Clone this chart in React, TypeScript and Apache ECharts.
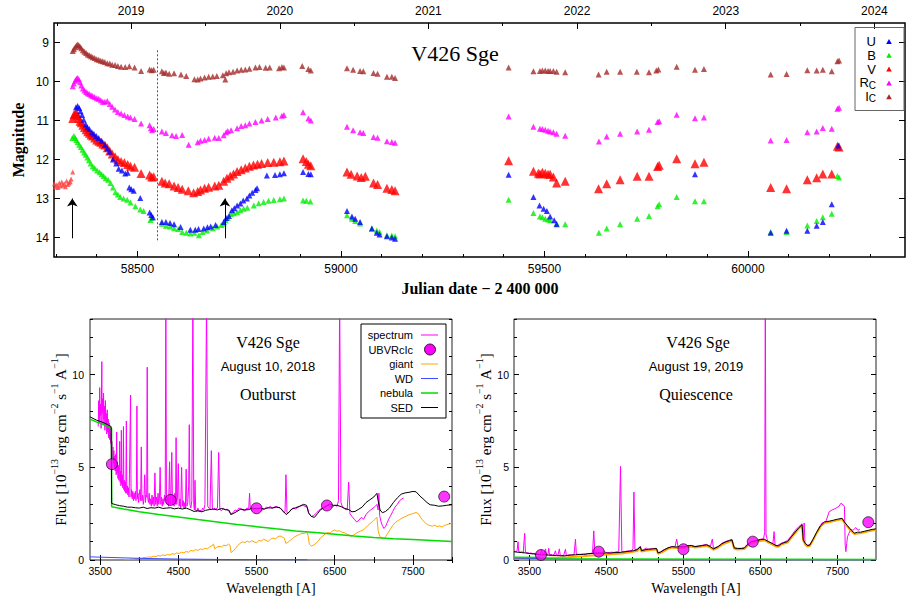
import React, { useEffect, useRef } from 'react';
import * as echarts from 'echarts';

const SERIF = '"Liberation Serif", "Times New Roman", serif';
const SANS = '"Liberation Sans", Arial, sans-serif';

// ---------- axis ticks ----------
const JD_MIN = 58295;
const JD_MAX = 60386;
const JD_LABELS = [58500, 59000, 59500, 60000];
const JD_MINOR = [58300, 58400, 58600, 58700, 58800, 58900, 59100, 59200, 59300, 59400, 59600, 59700, 59800, 59900, 60100, 60200, 60300];
const YEARS = [2019, 2020, 2021, 2022, 2023, 2024];
const HALF_YEARS = [2018.5, 2019.5, 2020.5, 2021.5, 2022.5, 2023.5];
const MAG_TICKS = [9, 10, 11, 12, 13, 14];
const WL_LABELS = [3500, 4500, 5500, 6500, 7500];
const WL_MINOR_L = [4000, 5000, 6000, 7000, 8000];
const WL_MINOR_R = [3833.3, 4166.7, 4833.3, 5166.7, 5833.3, 6166.7, 6833.3, 7166.7, 7833.3];
const FLUX_LABELS = [0, 5, 10];
const FLUX_MINOR = [1, 2, 3, 4, 6, 7, 8, 9, 11, 12, 13];

// ---------- light curves [JD-2400000, mag] ----------
const IC: number[][] = [
  [58341, 9.22], [58344, 9.17], [58347, 9.12], [58350, 9.08], [58353, 9.05], [58356, 9.07], [58359, 9.11], [58362, 9.15], [58366, 9.2], [58370, 9.24],
  [58374, 9.27], [58378, 9.31], [58382, 9.33], [58386, 9.35], [58390, 9.38], [58395, 9.4], [58400, 9.43], [58405, 9.44], [58410, 9.47], [58415, 9.48],
  [58420, 9.5], [58426, 9.53], [58432, 9.54], [58438, 9.57], [58445, 9.58], [58452, 9.6], [58460, 9.62], [58470, 9.63], [58480, 9.61], [58493, 9.64],
  [58509, 9.73], [58530, 9.69], [58535, 9.71], [58540, 9.7], [58560, 9.74], [58565, 9.78], [58570, 9.77], [58578, 9.8], [58590, 9.79], [58607, 9.82],
  [58620, 9.86], [58640, 9.94], [58648, 9.95], [58655, 9.92], [58665, 9.9], [58675, 9.88], [58685, 9.87], [58695, 9.86], [58710, 9.84], [58716, 9.95],
  [58718, 9.79], [58725, 9.76], [58735, 9.75], [58745, 9.72], [58755, 9.7], [58765, 9.69], [58775, 9.67], [58790, 9.64], [58800, 9.63], [58815, 9.65],
  [58825, 9.64], [58848, 9.66], [58855, 9.63], [58860, 9.64], [58905, 9.6], [58920, 9.68], [58926, 9.72], [59015, 9.66], [59030, 9.7], [59047, 9.73],
  [59055, 9.74], [59080, 9.78], [59090, 9.8], [59113, 9.88], [59125, 9.88], [59133, 9.91],
  [59412, 9.64], [59473, 9.74], [59489, 9.73], [59495, 9.72], [59502, 9.72], [59509, 9.73], [59514, 9.73], [59522, 9.73], [59530, 9.75], [59551, 9.76],
  [59633, 9.82], [59653, 9.75], [59686, 9.75], [59727, 9.75], [59757, 9.76], [59775, 9.72], [59780, 9.69], [59825, 9.62], [59870, 9.7], [59892, 9.68],
  [60056, 9.82], [60095, 9.81], [60146, 9.71], [60169, 9.72], [60184, 9.7], [60206, 9.74], [60220, 9.48], [60224, 9.46],
];
const RC: number[][] = [
  [58341, 10.12], [58344, 10.05], [58347, 9.98], [58350, 9.93], [58353, 9.91], [58356, 9.95], [58359, 10.02], [58362, 10.1], [58366, 10.18], [58370, 10.23],
  [58374, 10.27], [58378, 10.3], [58382, 10.32], [58386, 10.35], [58390, 10.37], [58395, 10.4], [58400, 10.43], [58405, 10.44], [58410, 10.48], [58415, 10.52],
  [58420, 10.52], [58426, 10.5], [58432, 10.58], [58438, 10.65], [58445, 10.72], [58452, 10.78], [58460, 10.82], [58468, 10.86], [58476, 10.9], [58483, 10.92],
  [58493, 10.96], [58509, 11.08], [58530, 11.12], [58533, 11.2], [58536, 11.25], [58540, 11.22], [58560, 11.28], [58570, 11.32], [58585, 11.38], [58595, 11.4],
  [58610, 11.37], [58626, 11.62], [58648, 11.56], [58655, 11.52], [58665, 11.5], [58675, 11.47], [58690, 11.44], [58700, 11.45], [58712, 11.38], [58718, 11.3],
  [58722, 11.27], [58730, 11.25], [58745, 11.2], [58755, 11.14], [58765, 11.12], [58775, 11.08], [58790, 11.04], [58805, 11.0], [58820, 10.96], [58840, 10.92],
  [58855, 10.88], [58860, 10.86], [58907, 10.79], [58920, 10.95], [58926, 11.0], [59015, 11.16], [59030, 11.25], [59047, 11.3], [59055, 11.32], [59080, 11.42],
  [59090, 11.44], [59113, 11.53], [59125, 11.55], [59133, 11.57],
  [59412, 10.9], [59473, 11.16], [59489, 11.21], [59495, 11.22], [59502, 11.24], [59509, 11.26], [59514, 11.28], [59522, 11.3], [59530, 11.34], [59551, 11.39],
  [59634, 11.54], [59653, 11.41], [59686, 11.34], [59728, 11.28], [59757, 11.24], [59778, 11.04], [59782, 11.02], [59825, 10.85], [59870, 10.94], [59892, 10.92],
  [60056, 11.51], [60095, 11.5], [60146, 11.3], [60169, 11.28], [60184, 11.19], [60206, 11.21], [60220, 10.7], [60224, 10.67],
];
const V_PRE: number[][] = [
  [58296, 12.62], [58299, 12.7], [58302, 12.65], [58305, 12.72], [58308, 12.6], [58311, 12.68], [58314, 12.58], [58317, 12.66], [58320, 12.62],
  [58323, 12.7], [58326, 12.55], [58329, 12.64], [58332, 12.6], [58335, 12.57], [58337, 12.5], [58341, 12.32],
];
const V: number[][] = [
  [58341, 10.95], [58344, 10.85], [58347, 10.82], [58350, 10.81], [58353, 10.88], [58356, 10.95], [58359, 11.02], [58362, 11.06], [58366, 11.12], [58370, 11.18],
  [58374, 11.24], [58378, 11.29], [58382, 11.33], [58386, 11.37], [58390, 11.4], [58395, 11.45], [58400, 11.5], [58405, 11.53], [58410, 11.56], [58415, 11.6],
  [58420, 11.63], [58426, 11.7], [58432, 11.78], [58438, 11.86], [58445, 11.93], [58452, 12.0], [58460, 12.05], [58468, 12.08], [58476, 12.13], [58483, 12.17],
  [58493, 12.2], [58509, 12.36], [58530, 12.4], [58535, 12.45], [58540, 12.44], [58560, 12.56], [58568, 12.6], [58578, 12.62], [58590, 12.68], [58600, 12.72],
  [58610, 12.76], [58625, 12.8], [58638, 12.85], [58648, 12.82], [58655, 12.78], [58665, 12.74], [58675, 12.71], [58690, 12.68], [58700, 12.66], [58712, 12.56],
  [58720, 12.48], [58728, 12.42], [58736, 12.37], [58745, 12.31], [58755, 12.26], [58765, 12.22], [58775, 12.17], [58785, 12.14], [58795, 12.12], [58805, 12.1],
  [58820, 12.08], [58835, 12.07], [58850, 12.06], [58860, 12.04], [58907, 11.98], [58915, 12.05], [58920, 12.12], [58926, 12.16], [59015, 12.32], [59025, 12.38],
  [59040, 12.42], [59050, 12.46], [59060, 12.43], [59080, 12.6], [59090, 12.64], [59113, 12.74], [59125, 12.77], [59133, 12.8],
  [59412, 12.03], [59473, 12.3], [59485, 12.35], [59489, 12.37], [59495, 12.33], [59502, 12.35], [59509, 12.38], [59514, 12.38], [59522, 12.45], [59530, 12.6],
  [59551, 12.56], [59633, 12.75], [59653, 12.62], [59686, 12.52], [59728, 12.43], [59757, 12.43], [59778, 12.18], [59782, 12.15], [59825, 11.98], [59870, 12.11],
  [59892, 12.07], [60056, 12.72], [60095, 12.75], [60146, 12.52], [60169, 12.47], [60184, 12.37], [60206, 12.37], [60220, 11.66], [60224, 11.68],
];
const U: number[][] = [
  [58349, 10.66], [58353, 10.63], [58357, 10.68], [58360, 10.76], [58364, 10.86], [58368, 10.98], [58373, 11.1], [58377, 11.17], [58382, 11.22], [58388, 11.3],
  [58393, 11.34], [58399, 11.4], [58405, 11.45], [58412, 11.52], [58420, 11.62], [58426, 11.72], [58432, 11.8], [58440, 12.0], [58448, 12.1], [58454, 12.24],
  [58462, 12.28], [58470, 12.36], [58476, 12.34], [58480, 12.72], [58485, 12.76], [58491, 12.8], [58507, 12.99], [58530, 13.36], [58534, 13.42], [58538, 13.48],
  [58560, 13.6], [58570, 13.6], [58580, 13.63], [58590, 13.66], [58606, 13.73], [58630, 13.8], [58642, 13.8], [58650, 13.78], [58663, 13.77], [58672, 13.74],
  [58680, 13.72], [58692, 13.68], [58712, 13.6], [58718, 13.5], [58725, 13.45], [58732, 13.3], [58738, 13.25], [58745, 13.18], [58753, 13.13], [58760, 13.05],
  [58769, 13.0], [58775, 12.92], [58782, 12.85], [58790, 12.78], [58794, 12.74], [58818, 12.41], [58838, 12.4], [58850, 12.38], [58860, 12.35], [58907, 12.32],
  [58920, 12.37], [58926, 12.38], [59015, 13.32], [59027, 13.46], [59035, 13.52], [59047, 13.6], [59076, 13.77], [59088, 13.88], [59095, 13.92], [59113, 13.97],
  [59125, 14.0], [59133, 14.03],
  [59412, 12.39], [59473, 12.96], [59488, 13.18], [59498, 13.26], [59506, 13.32], [59514, 13.46], [59524, 13.56], [59530, 13.66], [59870, 12.38],
  [60056, 13.88], [60095, 13.83], [60146, 13.83], [60169, 13.7], [60184, 13.6], [60206, 13.15], [60222, 11.64],
];
const B: number[][] = [
  [58340, 11.45], [58344, 11.4], [58347, 11.45], [58350, 11.5], [58353, 11.56], [58357, 11.62], [58361, 11.68], [58365, 11.75], [58369, 11.82], [58373, 11.88],
  [58377, 11.95], [58381, 12.02], [58385, 12.1], [58390, 12.17], [58395, 12.22], [58401, 12.28], [58407, 12.33], [58412, 12.38], [58417, 12.42], [58422, 12.48],
  [58428, 12.52], [58434, 12.6], [58440, 12.72], [58446, 12.84], [58452, 12.9], [58458, 12.96], [58466, 13.0], [58475, 13.03], [58483, 13.1], [58495, 13.2],
  [58507, 13.28], [58515, 13.32], [58532, 13.55], [58535, 13.5], [58560, 13.65], [58570, 13.7], [58580, 13.72], [58590, 13.76], [58600, 13.78], [58610, 13.86],
  [58620, 13.88], [58630, 13.9], [58640, 13.88], [58651, 13.94], [58660, 13.86], [58671, 13.82], [58685, 13.76], [58696, 13.72], [58706, 13.68], [58712, 13.65],
  [58717, 13.56], [58722, 13.5], [58729, 13.4], [58737, 13.38], [58745, 13.35], [58753, 13.3], [58761, 13.26], [58770, 13.24], [58786, 13.18], [58798, 13.12],
  [58810, 13.09], [58822, 13.06], [58835, 13.04], [58850, 13.02], [58860, 13.0], [58907, 13.05], [58915, 13.06], [58925, 13.08], [59015, 13.43], [59027, 13.52],
  [59035, 13.58], [59047, 13.64], [59076, 13.77], [59088, 13.82], [59095, 13.86], [59113, 13.94], [59125, 13.95], [59133, 13.97],
  [59412, 13.03], [59473, 13.37], [59489, 13.46], [59495, 13.48], [59502, 13.52], [59509, 13.54], [59514, 13.56], [59530, 13.64], [59551, 13.66], [59634, 13.88],
  [59653, 13.77], [59686, 13.66], [59728, 13.52], [59757, 13.45], [59778, 13.2], [59782, 13.15], [59825, 12.96], [59870, 13.07], [59892, 13.07], [60056, 13.86],
  [60095, 13.86], [60146, 13.69], [60169, 13.58], [60184, 13.48], [60206, 13.39], [60220, 12.42], [60224, 12.46],
];
const ARROW_JD = [58340, 58715];
const ARROW_MAG = [14.02, 13.0];
const DIVIDER_JD = 58549;
const DIVIDER_MAG = [9.2, 14.08];

// ---------- spectra: outburst (Aug 10, 2018) [wavelength A, flux] ----------
const SPEC_OUT: number[][] = [
  [3475, 7.2], [3482, 8.6], [3488, 7.4], [3494, 9.3], [3500, 7.8], [3506, 8.4], [3512, 7.1], [3517, 8.9], [3521, 10.7], [3525, 7.9], [3531, 8.7], [3537, 7.3],
  [3543, 9.0], [3549, 7.6], [3555, 8.3], [3561, 7.0], [3567, 8.6], [3573, 7.2], [3579, 7.9], [3585, 6.8], [3591, 8.1], [3597, 6.9], [3603, 7.6], [3609, 6.6],
  [3615, 7.4], [3621, 6.5], [3627, 7.1], [3633, 6.3], [3639, 6.8], [3645, 6.0], [3651, 6.4], [3657, 5.5], [3663, 6.1], [3669, 5.2], [3675, 5.9], [3681, 5.0],
  [3687, 5.6], [3693, 4.8], [3699, 5.7], [3705, 4.6], [3711, 6.9], [3716, 4.7], [3722, 5.3], [3728, 4.4], [3734, 5.1], [3740, 4.3], [3746, 4.9], [3750, 6.4],
  [3755, 4.2], [3761, 4.8], [3766, 4.0], [3771, 7.0], [3776, 4.1], [3782, 4.6], [3788, 3.9], [3793, 4.5], [3798, 7.2], [3803, 3.8], [3809, 4.3], [3815, 3.7],
  [3821, 4.2], [3828, 3.6], [3835, 7.5], [3841, 3.6], [3848, 4.0], [3855, 3.5], [3862, 3.9], [3869, 3.4], [3875, 4.6], [3889, 8.9], [3895, 3.4], [3902, 3.8],
  [3910, 3.3], [3918, 3.7], [3926, 3.2], [3934, 3.6], [3942, 3.3], [3950, 3.7], [3958, 3.2], [3964, 4.1], [3970, 8.3], [3976, 3.3], [3984, 3.6], [3992, 3.1],
  [4000, 3.5], [4009, 3.8], [4018, 3.2], [4026, 6.1], [4034, 3.2], [4043, 3.5], [4052, 3.0], [4061, 3.4], [4070, 4.6], [4079, 3.1], [4087, 3.5], [4095, 3.4],
  [4102, 10.4], [4109, 3.3], [4118, 3.1], [4127, 3.6], [4136, 3.0], [4145, 3.3], [4154, 2.9], [4163, 3.5], [4172, 3.0], [4181, 3.4], [4190, 2.9], [4200, 4.7],
  [4210, 3.0], [4220, 3.4], [4230, 2.9], [4240, 3.6], [4250, 3.0], [4258, 3.3], [4267, 5.0], [4276, 3.0], [4285, 3.4], [4294, 2.9], [4303, 3.3], [4312, 3.0],
  [4322, 3.5], [4332, 3.2], [4340, 14], [4348, 3.3], [4357, 3.0], [4366, 3.4], [4375, 2.9], [4388, 5.3], [4396, 3.0], [4405, 3.4], [4416, 5.8], [4425, 3.0],
  [4435, 3.5], [4445, 2.9], [4455, 3.6], [4464, 3.0], [4471, 6.6], [4479, 3.0], [4489, 3.4], [4500, 5.2], [4510, 2.9], [4520, 3.3], [4530, 2.8], [4542, 5.0],
  [4552, 2.9], [4562, 3.2], [4572, 2.8], [4582, 3.1], [4590, 2.8], [4600, 4.9], [4610, 2.9], [4620, 3.1], [4632, 4.0], [4640, 7.3], [4648, 3.0], [4660, 2.8],
  [4672, 3.2], [4686, 14], [4697, 3.0], [4705, 2.7], [4713, 4.3], [4722, 2.7], [4735, 2.6], [4750, 2.8], [4765, 2.6], [4780, 2.7], [4795, 2.6], [4810, 2.8],
  [4825, 2.7], [4840, 3.0], [4861, 14], [4876, 2.9], [4890, 2.8], [4905, 2.75], [4922, 5.9], [4935, 2.8], [4950, 2.7], [4965, 2.8], [4980, 2.75], [5000, 2.8],
  [5016, 5.8], [5030, 2.75], [5050, 2.65], [5075, 2.8], [5100, 2.7], [5125, 2.75], [5150, 2.6], [5175, 2.5], [5200, 2.55], [5225, 2.7], [5250, 2.65], [5275, 2.8],
  [5300, 2.75], [5325, 2.7], [5350, 2.65], [5375, 2.8], [5400, 2.75], [5411, 3.6], [5420, 2.8], [5450, 2.7], [5475, 2.75], [5500, 2.8], [5525, 2.75], [5550, 2.8],
  [5575, 2.7], [5600, 2.75], [5625, 2.85], [5650, 2.8], [5675, 2.9], [5700, 2.8], [5725, 2.85], [5750, 2.9], [5775, 2.85], [5800, 2.8], [5825, 2.7], [5850, 2.55],
  [5865, 2.6], [5876, 4.6], [5890, 2.5], [5910, 2.55], [5940, 2.7], [5970, 2.8], [6000, 2.75], [6030, 2.85], [6060, 2.9], [6090, 2.95], [6120, 2.9], [6150, 2.85],
  [6170, 2.5], [6200, 2.35], [6230, 2.4], [6260, 2.5], [6290, 2.65], [6320, 2.75], [6350, 2.8], [6380, 2.9], [6410, 2.95], [6440, 2.9], [6470, 2.85], [6500, 2.95],
  [6530, 2.9], [6548, 3.2], [6563, 14], [6580, 3.1], [6600, 2.85], [6630, 2.75], [6660, 2.7], [6678, 4.2], [6695, 2.5], [6720, 2.35], [6750, 2.2], [6780, 2.05],
  [6810, 2.15], [6840, 2.3], [6870, 2.2], [6900, 2.45], [6930, 2.6], [6960, 2.7], [6990, 2.8], [7020, 2.9], [7040, 3.0], [7055, 2.7], [7065, 3.6], [7075, 2.4],
  [7090, 2.1], [7110, 1.85], [7130, 1.7], [7150, 1.8], [7170, 2.0], [7190, 2.2], [7210, 2.35], [7240, 2.6], [7270, 2.85], [7300, 3.0], [7330, 3.2], [7360, 3.3],
  [7380, 3.35],
];
const PHOT_OUT: number[][] = [[3650, 5.17], [4400, 3.24], [5500, 2.79], [6400, 2.94], [7900, 3.42]];
const GIANT_OUT: number[][] = [
  [3800, 0.0], [3850, 0.02], [3900, 0.05], [3930, 0.04], [3960, 0.08], [4000, 0.1], [4030, 0.09], [4060, 0.14], [4090, 0.12], [4120, 0.17], [4150, 0.15],
  [4180, 0.2], [4210, 0.18], [4240, 0.24], [4270, 0.21], [4300, 0.27], [4330, 0.24], [4360, 0.3], [4390, 0.27], [4420, 0.34], [4450, 0.31], [4480, 0.38],
  [4510, 0.35], [4540, 0.42], [4570, 0.39], [4600, 0.46], [4630, 0.42], [4660, 0.52], [4690, 0.48], [4720, 0.56], [4750, 0.52], [4780, 0.6], [4810, 0.56],
  [4840, 0.64], [4870, 0.6], [4900, 0.7], [4930, 0.78], [4950, 0.86], [4965, 0.6], [4990, 0.68], [5020, 0.74], [5050, 0.7], [5080, 0.8], [5110, 0.76],
  [5140, 0.86], [5160, 0.8], [5175, 0.4], [5200, 0.48], [5230, 0.62], [5260, 0.78], [5290, 0.9], [5320, 0.98], [5350, 0.94], [5380, 1.02], [5410, 0.96],
  [5440, 1.04], [5470, 0.98], [5500, 0.92], [5530, 1.06], [5560, 1.02], [5590, 1.12], [5620, 1.06], [5650, 1.0], [5680, 1.12], [5710, 1.18], [5740, 1.14],
  [5770, 1.24], [5800, 1.3], [5830, 1.24], [5855, 1.18], [5875, 0.9], [5900, 0.95], [5930, 1.06], [5960, 1.16], [5990, 1.26], [6020, 1.32], [6050, 1.38],
  [6080, 1.44], [6110, 1.42], [6140, 1.52], [6160, 1.3], [6175, 0.85], [6200, 0.75], [6230, 0.8], [6260, 0.9], [6290, 1.02], [6320, 1.2], [6350, 1.3],
  [6380, 1.42], [6410, 1.48], [6440, 1.45], [6470, 1.56], [6500, 1.62], [6530, 1.55], [6560, 1.58], [6590, 1.5], [6620, 1.48], [6650, 1.4], [6680, 1.36],
  [6710, 1.28], [6740, 1.34], [6770, 1.42], [6800, 1.5], [6830, 1.56], [6860, 1.6], [6890, 1.72], [6920, 1.84], [6950, 1.96], [6980, 2.06], [7010, 2.18],
  [7040, 2.3], [7055, 1.6], [7070, 1.35], [7090, 1.2], [7110, 1.18], [7130, 1.16], [7150, 1.26], [7180, 1.45], [7210, 1.65], [7240, 1.85], [7270, 2.0],
  [7300, 2.1], [7330, 2.18], [7360, 2.26], [7390, 2.32], [7420, 2.38], [7450, 2.44], [7480, 2.48], [7510, 2.52], [7540, 2.56], [7570, 2.5], [7600, 2.28],
  [7630, 2.12], [7660, 2.0], [7690, 1.9], [7720, 1.86], [7750, 1.82], [7780, 1.88], [7810, 1.8], [7840, 1.84], [7870, 1.78], [7900, 1.86], [7930, 1.9],
  [7960, 1.94], [8000, 1.98],
];
const WD_OUT: number[][] = [[3370, 0.17], [3600, 0.14], [4000, 0.09], [4500, 0.05], [5000, 0.03], [5500, 0.02], [6150, 0.01]];
const NEB_OUT: number[][] = [
  [3370, 7.6], [3450, 7.45], [3550, 7.3], [3646, 7.1], [3647, 2.87], [3800, 2.75], [4000, 2.6], [4250, 2.45], [4500, 2.32], [4750, 2.18], [5000, 2.05],
  [5250, 1.92], [5500, 1.8], [5750, 1.68], [6000, 1.57], [6250, 1.48], [6500, 1.39], [6750, 1.3], [7000, 1.22], [7250, 1.15], [7500, 1.1], [7750, 1.05], [8000, 1.0],
];
const SED_OUT: number[][] = [
  [3370, 7.72], [3450, 7.55], [3550, 7.4], [3640, 7.2], [3647, 3.05], [3700, 2.98], [3750, 2.93], [3800, 2.9], [3850, 2.85], [3900, 2.85], [3950, 2.82],
  [4000, 2.8], [4050, 2.85], [4100, 2.78], [4150, 2.82], [4200, 2.8], [4250, 2.85], [4300, 2.78], [4350, 2.8], [4400, 2.82], [4450, 2.76], [4500, 2.8],
  [4550, 2.75], [4600, 2.8], [4650, 2.72], [4700, 2.62], [4750, 2.66], [4800, 2.6], [4850, 2.68], [4900, 2.72], [4950, 2.75], [5000, 2.7], [5050, 2.78],
  [5100, 2.72], [5150, 2.68], [5170, 2.45], [5200, 2.5], [5250, 2.62], [5300, 2.75], [5350, 2.7], [5400, 2.72], [5450, 2.8], [5500, 2.76], [5550, 2.8],
  [5600, 2.75], [5650, 2.82], [5700, 2.8], [5750, 2.85], [5800, 2.82], [5850, 2.6], [5880, 2.45], [5920, 2.6], [5950, 2.75], [6000, 2.82], [6050, 2.9],
  [6100, 3.0], [6140, 2.95], [6165, 2.55], [6200, 2.35], [6240, 2.3], [6280, 2.5], [6320, 2.72], [6380, 2.85], [6430, 3.02], [6480, 2.95], [6530, 2.95],
  [6580, 2.88], [6630, 2.78], [6680, 2.72], [6720, 2.6], [6760, 2.62], [6800, 2.72], [6850, 2.85], [6900, 3.1], [6950, 3.25], [7000, 3.4], [7040, 3.6],
  [7055, 3.2], [7080, 2.7], [7110, 2.55], [7150, 2.62], [7200, 2.8], [7250, 3.1], [7300, 3.35], [7350, 3.55], [7400, 3.62], [7450, 3.65], [7500, 3.7],
  [7540, 3.68], [7590, 3.45], [7630, 3.3], [7680, 3.1], [7720, 2.98], [7780, 2.95], [7830, 2.9], [7880, 2.92], [7930, 2.95], [8000, 2.98],
];

// ---------- spectra: quiescence (Aug 19, 2019) ----------
const SPEC_Q: number[][] = [
  [3300, 0.48], [3320, 0.45], [3340, 0.5], [3352, 0.99], [3362, 0.45], [3380, 0.42], [3400, 0.44], [3420, 0.4], [3430, 1.0], [3439, 1.44], [3448, 0.42],
  [3465, 0.4], [3480, 0.38], [3500, 0.36], [3520, 0.38], [3540, 0.34], [3560, 0.36], [3580, 0.33], [3600, 0.35], [3620, 0.32], [3640, 0.3], [3660, 0.55],
  [3670, 0.3], [3690, 0.31], [3710, 0.6], [3720, 0.3], [3740, 0.29], [3751, 0.63], [3760, 0.28], [3780, 0.3], [3800, 0.27], [3820, 0.28], [3838, 0.5],
  [3850, 0.27], [3870, 0.25], [3889, 0.6], [3900, 0.26], [3920, 0.24], [3945, 0.25], [3968, 0.58], [3980, 0.24], [4000, 0.26], [4030, 0.28], [4060, 0.27],
  [4080, 0.3], [4098, 1.12], [4110, 0.3], [4140, 0.31], [4170, 0.3], [4200, 0.33], [4230, 0.31], [4260, 0.35], [4290, 0.34], [4320, 0.4], [4336, 1.57],
  [4350, 0.38], [4380, 0.37], [4410, 0.4], [4440, 0.38], [4470, 0.5], [4490, 0.4], [4520, 0.39], [4560, 0.42], [4600, 0.41], [4640, 0.45], [4660, 0.44],
  [4683, 5.05], [4700, 0.45], [4730, 0.44], [4760, 0.48], [4800, 0.5], [4830, 0.52], [4845, 0.6], [4857, 3.66], [4870, 0.55], [4900, 0.6], [4925, 0.68],
  [4940, 0.72], [4955, 0.52], [4980, 0.55], [5016, 0.65], [5040, 0.58], [5080, 0.6], [5120, 0.62], [5150, 0.63], [5170, 0.4], [5200, 0.43], [5250, 0.56],
  [5300, 0.66], [5350, 0.72], [5390, 0.7], [5412, 1.13], [5430, 0.72], [5470, 0.7], [5510, 0.71], [5550, 0.77], [5600, 0.79], [5650, 0.73], [5700, 0.76],
  [5750, 0.8], [5800, 0.84], [5850, 0.74], [5875, 1.13], [5890, 0.62], [5950, 0.73], [6000, 0.9], [6050, 1.0], [6100, 1.07], [6130, 1.12], [6160, 0.66],
  [6200, 0.63], [6250, 0.63], [6290, 0.66], [6330, 0.85], [6380, 1.0], [6420, 1.04], [6460, 1.07], [6500, 1.12], [6540, 1.15], [6555, 1.5], [6563, 14],
  [6572, 1.4], [6590, 1.05], [6620, 0.95], [6660, 0.85], [6677, 1.53], [6690, 0.8], [6720, 0.78], [6760, 0.88], [6800, 0.95], [6850, 1.05], [6900, 1.3],
  [6950, 1.6], [7000, 1.8], [7040, 1.95], [7055, 1.15], [7067, 2.0], [7078, 0.95], [7100, 0.82], [7130, 0.8], [7170, 1.0], [7210, 1.3], [7260, 1.75],
  [7300, 2.0], [7349, 2.07], [7392, 2.6], [7430, 2.7], [7479, 2.79], [7520, 2.9], [7544, 3.06], [7575, 2.97], [7590, 2.9], [7600, 0.8], [7609, 0.45],
  [7620, 0.9], [7630, 1.26], [7650, 1.45], [7674, 1.66], [7700, 1.6], [7739, 1.75], [7765, 1.6], [7790, 1.66],
];
const PHOT_Q: number[][] = [[3650, 0.27], [4400, 0.45], [5500, 0.58], [6400, 0.99], [7900, 2.04]];
const GIANT_Q: number[][] = [
  [3300, 0.08], [3400, 0.08], [3500, 0.09], [3600, 0.1], [3700, 0.11], [3800, 0.12], [3900, 0.13], [4000, 0.15], [4100, 0.18], [4200, 0.2], [4300, 0.24],
  [4400, 0.26], [4500, 0.29], [4600, 0.32], [4700, 0.35], [4800, 0.42], [4900, 0.49], [4940, 0.66], [4955, 0.45], [5000, 0.5], [5100, 0.55], [5150, 0.57],
  [5170, 0.34], [5200, 0.37], [5300, 0.6], [5350, 0.67], [5400, 0.65], [5500, 0.65], [5600, 0.73], [5650, 0.67], [5700, 0.7], [5800, 0.77], [5850, 0.67],
  [5890, 0.55], [5950, 0.67], [6000, 0.83], [6100, 1.0], [6130, 1.03], [6160, 0.6], [6200, 0.57], [6290, 0.59], [6330, 0.77], [6380, 0.93], [6460, 1.0],
  [6550, 1.07], [6600, 0.95], [6700, 0.73], [6730, 0.71], [6780, 0.85], [6850, 0.94], [6900, 1.2], [6950, 1.45], [7000, 1.7], [7040, 1.85], [7055, 1.05],
  [7080, 0.85], [7110, 0.73], [7140, 0.75], [7180, 1.05], [7230, 1.45], [7280, 1.8], [7330, 2.0], [7400, 2.05], [7500, 2.15], [7560, 2.2], [7590, 2.0],
  [7630, 1.8], [7680, 1.55], [7720, 1.4], [7800, 1.45], [7900, 1.55], [8000, 1.63],
];
const WD_Q: number[][] = [[3300, 0.1], [3700, 0.07], [4200, 0.04], [5000, 0.02], [6000, 0.01], [8000, 0.005]];
const NEB_Q: number[][] = [[3300, 0.15], [3646, 0.13], [3647, 0.06], [4500, 0.05], [6000, 0.04], [8000, 0.03]];
const SED_Q: number[][] = [
  [3300, 0.45], [3350, 0.42], [3400, 0.4], [3450, 0.38], [3500, 0.35], [3550, 0.33], [3600, 0.3], [3650, 0.27], [3700, 0.28], [3750, 0.26], [3800, 0.25],
  [3850, 0.24], [3900, 0.23], [3950, 0.22], [4000, 0.25], [4050, 0.27], [4100, 0.28], [4150, 0.3], [4200, 0.3], [4250, 0.33], [4300, 0.35], [4350, 0.36],
  [4400, 0.37], [4450, 0.36], [4500, 0.38], [4550, 0.37], [4600, 0.4], [4650, 0.4], [4700, 0.42], [4750, 0.45], [4800, 0.47], [4850, 0.5], [4900, 0.55],
  [4940, 0.72], [4955, 0.5], [5000, 0.55], [5050, 0.58], [5100, 0.6], [5150, 0.62], [5170, 0.38], [5200, 0.42], [5250, 0.55], [5300, 0.65], [5350, 0.72],
  [5400, 0.7], [5450, 0.72], [5500, 0.7], [5550, 0.76], [5600, 0.78], [5650, 0.72], [5700, 0.75], [5750, 0.78], [5800, 0.82], [5850, 0.72], [5890, 0.6],
  [5950, 0.72], [6000, 0.88], [6050, 0.98], [6100, 1.05], [6130, 1.08], [6160, 0.65], [6200, 0.62], [6250, 0.62], [6290, 0.64], [6330, 0.82], [6380, 0.98],
  [6420, 1.02], [6460, 1.05], [6500, 1.1], [6550, 1.12], [6600, 1.0], [6650, 0.9], [6700, 0.78], [6730, 0.76], [6780, 0.9], [6820, 0.95], [6850, 0.99],
  [6900, 1.25], [6950, 1.5], [7000, 1.75], [7040, 1.9], [7055, 1.1], [7080, 0.9], [7110, 0.78], [7140, 0.8], [7180, 1.1], [7230, 1.5], [7280, 1.85],
  [7330, 2.05], [7400, 2.1], [7450, 2.15], [7500, 2.2], [7560, 2.25], [7590, 2.05], [7630, 1.85], [7680, 1.6], [7720, 1.45], [7760, 1.5], [7800, 1.5],
  [7850, 1.55], [7900, 1.6], [7950, 1.65], [8000, 1.68],
];

const toYear = (jd: number) => 2019 + (jd - 58484.5) / 365.25;

function axis(o: any) {
  return {
    type: 'value',
    gridIndex: o.grid,
    position: o.pos,
    min: o.min,
    max: o.max,
    inverse: !!o.inverse,
    axisLine: { show: false },
    splitLine: { show: false },
    axisTick: { show: true, inside: true, length: o.len, customValues: o.ticks, lineStyle: { color: '#000', width: 1 } },
    axisLabel: o.labels
      ? { show: true, customValues: o.labels, fontSize: o.fs, fontFamily: SANS, color: '#000', margin: o.margin, formatter: (v: number) => String(v) }
      : { show: false },
  };
}

const center = { align: 'center', verticalAlign: 'middle', textAlign: 'center', textVerticalAlign: 'middle' };
const rightAl = { align: 'right', verticalAlign: 'middle', textAlign: 'right', textVerticalAlign: 'middle' };

function txt(text: string, x: number, y: number, fontSize: number, fontFamily: string, extra: any = {}, rotation = 0) {
  return { type: 'text', x, y, rotation, z: 100, style: { text, fontSize, fontFamily, fill: '#000', ...center, ...extra } };
}

const fluxRich = {
  n: { fontSize: 15, fontFamily: SERIF, lineHeight: 19, verticalAlign: 'bottom' },
  p: { fontSize: 10, fontFamily: SERIF, lineHeight: 8, verticalAlign: 'top' },
};
const fluxText = '{n|Flux [10}{p|\u221213}{n| erg cm}{p|\u22122}{n| s}{p|\u22121}{n| A}{p|\u22121}{n|]}';
const subRich = {
  n: { fontSize: 13, fontFamily: SANS, lineHeight: 14, verticalAlign: 'top' },
  s: { fontSize: 10, fontFamily: SANS, lineHeight: 9, verticalAlign: 'bottom' },
};

function tri(x: number, y: number, color: string) {
  return { type: 'polygon', z: 100, shape: { points: [[x - 2.8, y + 2.4], [x + 2.8, y + 2.4], [x, y - 2.6]] }, style: { fill: color } };
}

export default function App() {
  const ref = useRef<HTMLDivElement>(null);
  useEffect(() => {
    document.body.style.margin = '0';
    if (!ref.current) return;
    const chart = echarts.init(ref.current, undefined, { renderer: 'svg' });

    const topLegend = [
      { label: 'U', color: '#0000ff', y: 41.5 },
      { label: 'B', color: '#00ee00', y: 55.3 },
      { label: 'V', color: '#ff0000', y: 69.1 },
      { label: '{n|R}{s|C}', color: '#ff00ff', y: 83 },
      { label: '{n|I}{s|C}', color: '#a52a2a', y: 96.8 },
    ];
    const botLegend = [
      { label: 'spectrum', color: '#ff00ff', kind: 'line', w: 1 },
      { label: 'UBVRcIc', color: '#ff00ff', kind: 'dot', w: 1 },
      { label: 'giant', color: '#ffa500', kind: 'line', w: 1 },
      { label: 'WD', color: '#3a4cff', kind: 'line', w: 1 },
      { label: 'nebula', color: '#00dd00', kind: 'line', w: 1.5 },
      { label: 'SED', color: '#000000', kind: 'line', w: 1 },
    ];
    const graphic: any[] = [
      txt('V426 Sge', 455, 53, 22, SERIF),
      txt('Julian date \u2212 2 400 000', 480, 288, 16, SERIF, { fontWeight: 'bold' }),
      txt('Magnitude', 18, 140, 16, SERIF, { fontWeight: 'bold' }, Math.PI / 2),
      txt('V426 Sge', 268, 342, 16, SERIF),
      txt('August 10, 2018', 268, 366, 13, SANS),
      txt('Outburst', 268, 394, 16, SERIF),
      txt('V426 Sge', 698, 342, 16, SERIF),
      txt('August 19, 2019', 696, 366, 13, SANS),
      txt('Quiescence', 696, 394, 16, SERIF),
      txt('Wavelength [A]', 271, 588, 14, SERIF),
      txt('Wavelength [A]', 696, 588, 14, SERIF),
      txt(fluxText, 59, 439.5, 15, SERIF, { rich: fluxRich }, Math.PI / 2),
      txt(fluxText, 483.5, 439.5, 15, SERIF, { rich: fluxRich }, Math.PI / 2),
      { type: 'rect', z: 100, shape: { x: 855, y: 27.5, width: 49, height: 83 }, style: { fill: 'transparent', stroke: '#666', lineWidth: 1 } },
      { type: 'rect', z: 100, shape: { x: 361, y: 324, width: 85, height: 94 }, style: { fill: 'transparent', stroke: '#000', lineWidth: 1 } },
    ];
    topLegend.forEach((e) => {
      graphic.push(txt(e.label, 876, e.y, 13, SANS, { ...rightAl, rich: subRich }));
      graphic.push(tri(889, e.y, e.color));
    });
    botLegend.forEach((e, i) => {
      const y = 335 + i * 14.5;
      graphic.push(txt(e.label, 413, y, 11, SANS, rightAl));
      if (e.kind === 'line') {
        graphic.push({ type: 'line', z: 100, shape: { x1: 421, y1: y, x2: 438, y2: y }, style: { stroke: e.color, lineWidth: e.w } });
      } else {
        graphic.push({ type: 'circle', z: 100, shape: { cx: 430, cy: y, r: 5.5 }, style: { fill: '#ff00ff', stroke: '#000', lineWidth: 0.8 } });
      }
    });

    const yrMin = toYear(JD_MIN);
    const yrMax = toYear(JD_MAX);

    const xAxis = [
      axis({ grid: 0, pos: 'bottom', min: JD_MIN, max: JD_MAX, ticks: JD_LABELS, len: 6, labels: JD_LABELS, fs: 12, margin: 6 }),
      axis({ grid: 0, pos: 'bottom', min: JD_MIN, max: JD_MAX, ticks: JD_MINOR, len: 3 }),
      axis({ grid: 0, pos: 'top', min: yrMin, max: yrMax, ticks: YEARS, len: 6, labels: YEARS, fs: 12, margin: 6 }),
      axis({ grid: 0, pos: 'top', min: yrMin, max: yrMax, ticks: HALF_YEARS, len: 3 }),
      axis({ grid: 1, pos: 'bottom', min: 3370, max: 8000, ticks: WL_LABELS, len: 5, labels: WL_LABELS, fs: 10.5, margin: 5 }),
      axis({ grid: 1, pos: 'bottom', min: 3370, max: 8000, ticks: WL_MINOR_L, len: 3 }),
      axis({ grid: 1, pos: 'top', min: 3370, max: 8000, ticks: WL_LABELS, len: 5 }),
      axis({ grid: 1, pos: 'top', min: 3370, max: 8000, ticks: WL_MINOR_L, len: 3 }),
      axis({ grid: 2, pos: 'bottom', min: 3300, max: 8000, ticks: WL_LABELS, len: 5, labels: WL_LABELS, fs: 10.5, margin: 5 }),
      axis({ grid: 2, pos: 'bottom', min: 3300, max: 8000, ticks: WL_MINOR_R, len: 3 }),
      axis({ grid: 2, pos: 'top', min: 3300, max: 8000, ticks: WL_LABELS, len: 5 }),
      axis({ grid: 2, pos: 'top', min: 3300, max: 8000, ticks: WL_MINOR_R, len: 3 }),
    ];
    const yAxis = [
      axis({ grid: 0, pos: 'left', min: 8.5, max: 14.5, inverse: true, ticks: MAG_TICKS, len: 6, labels: MAG_TICKS, fs: 12, margin: 5 }),
      axis({ grid: 0, pos: 'right', min: 8.5, max: 14.5, inverse: true, ticks: MAG_TICKS, len: 6 }),
      axis({ grid: 1, pos: 'left', min: 0, max: 13, ticks: FLUX_LABELS, len: 5, labels: FLUX_LABELS, fs: 10.5, margin: 6 }),
      axis({ grid: 1, pos: 'left', min: 0, max: 13, ticks: FLUX_MINOR, len: 3 }),
      axis({ grid: 1, pos: 'right', min: 0, max: 13, ticks: FLUX_LABELS, len: 5 }),
      axis({ grid: 1, pos: 'right', min: 0, max: 13, ticks: FLUX_MINOR, len: 3 }),
      axis({ grid: 2, pos: 'left', min: 0, max: 13, ticks: FLUX_LABELS, len: 5, labels: FLUX_LABELS, fs: 10.5, margin: 5 }),
      axis({ grid: 2, pos: 'left', min: 0, max: 13, ticks: FLUX_MINOR, len: 3 }),
      axis({ grid: 2, pos: 'right', min: 0, max: 13, ticks: FLUX_LABELS, len: 5 }),
      axis({ grid: 2, pos: 'right', min: 0, max: 13, ticks: FLUX_MINOR, len: 3 }),
    ];

    const sc = (data: number[][], color: string, size: number, extra: any = {}) => ({
      type: 'scatter', xAxisIndex: 0, yAxisIndex: 0, data, symbol: 'triangle', symbolSize: size,
      itemStyle: { color }, silent: true, ...extra,
    });
    const ln = (xi: number, yi: number, data: number[][], color: string, width: number, z = 2) => ({
      type: 'line', xAxisIndex: xi, yAxisIndex: yi, data, showSymbol: false, symbol: 'none', clip: true, z,
      lineStyle: { color, width }, silent: true,
    });
    const dots = (xi: number, yi: number, data: number[][]) => ({
      type: 'scatter', xAxisIndex: xi, yAxisIndex: yi, data, symbol: 'circle', symbolSize: 11, z: 5,
      itemStyle: { color: '#ff00ff', borderColor: '#000', borderWidth: 0.8 }, silent: true,
    });

    const series: any[] = [
      sc(IC, '#a52a2a', 6, {
        markLine: {
          silent: true, symbol: ['none', 'arrow'], symbolSize: 8, label: { show: false },
          lineStyle: { color: '#000', width: 1, type: 'solid' },
          data: ARROW_JD.map((jd) => [{ coord: [jd, ARROW_MAG[0]] }, { coord: [jd, ARROW_MAG[1]] }]),
        },
      }),
      sc(RC, '#ff00ff', 6, {
        markLine: {
          silent: true, symbol: ['none', 'none'], label: { show: false },
          lineStyle: { color: '#555', width: 1, type: [2, 2] },
          data: [[{ coord: [DIVIDER_JD, DIVIDER_MAG[0]] }, { coord: [DIVIDER_JD, DIVIDER_MAG[1]] }]],
        },
      }),
      sc(V_PRE, '#ff4040', 5),
      sc(V, '#ff0000', 9),
      sc(B, '#00ee00', 6),
      sc(U, '#0000ff', 6),
      // outburst panel
      ln(4, 2, SPEC_OUT, '#ff00ff', 1, 2),
      ln(4, 2, GIANT_OUT, '#ffa500', 1, 3),
      ln(4, 2, WD_OUT, '#3a4cff', 1, 3),
      ln(4, 2, NEB_OUT, '#00dd00', 1.5, 3),
      ln(4, 2, SED_OUT, '#000000', 1, 4),
      dots(4, 2, PHOT_OUT),
      // quiescence panel
      ln(8, 6, SPEC_Q, '#ff00ff', 1, 2),
      ln(8, 6, GIANT_Q, '#ffa500', 2, 3),
      ln(8, 6, WD_Q, '#3a4cff', 1, 3),
      ln(8, 6, NEB_Q, '#00dd00', 1.5, 3),
      ln(8, 6, SED_Q, '#000000', 1, 4),
      dots(8, 6, PHOT_Q),
    ];

    chart.setOption({
      animation: false,
      backgroundColor: '#fff',
      grid: [
        { left: 54, top: 23, width: 851, height: 234, show: true, borderColor: '#000', borderWidth: 1.5, backgroundColor: 'transparent' },
        { left: 90, top: 319, width: 362, height: 241, show: true, borderColor: '#222', borderWidth: 1, backgroundColor: 'transparent' },
        { left: 514, top: 319, width: 362, height: 241, show: true, borderColor: '#222', borderWidth: 1, backgroundColor: 'transparent' },
      ],
      xAxis,
      yAxis,
      series,
      graphic,
    });
    return () => chart.dispose();
  }, []);
  return <div ref={ref} style={{ width: 906, height: 603 }} />;
}
